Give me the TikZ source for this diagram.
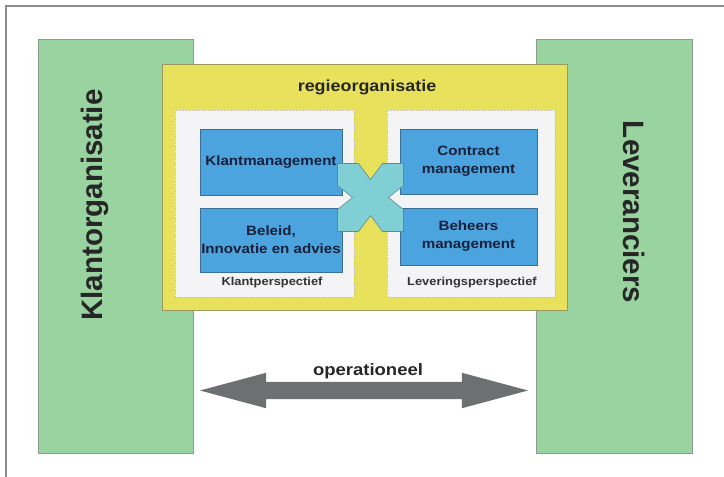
\documentclass[tikz,border=0pt]{standalone}
\usepackage{fontspec}
\setmainfont{Liberation Sans}
\newfontfamily\widesans[FakeStretch=1.12]{Liberation Sans}
\usepackage{xcolor}
\usepackage{tikz}
\usetikzlibrary{positioning,shapes.arrows}

\definecolor{sidegreen}{HTML}{99D3A0}
\definecolor{sideline}{HTML}{8A9C8C}
\definecolor{regieyellow}{HTML}{E8E15C}
\definecolor{regieline}{HTML}{9C9A62}
\definecolor{panelwhite}{HTML}{F4F3F6}
\definecolor{panelline}{HTML}{C9C2A2}
\definecolor{taskblue}{HTML}{4CA4DF}
\definecolor{taskline}{HTML}{3D6E96}
\definecolor{taskink}{HTML}{15203A}
\definecolor{crosscyan}{HTML}{7FCFD5}
\definecolor{crossline}{HTML}{5A8D90}
\definecolor{arrowgray}{HTML}{6C7070}
\definecolor{framegray}{HTML}{8C8C8C}

\begin{document}
\begin{tikzpicture}[x=1pt,y=-1pt,
		side/.style={rectangle, draw=sideline, fill=sidegreen, line width=1pt, minimum width=155pt, minimum height=414pt},
		sidelabel/.style={font=\bfseries\fontsize{29.5}{32}\selectfont, text=black!85},
		panel/.style={rectangle, draw=panelline, densely dotted, line width=0.8pt, fill=panelwhite, minimum height=187pt},
		task/.style={rectangle, draw=taskline, fill=taskblue, line width=0.8pt, align=center, inner sep=0pt,
			font=\widesans\bfseries\fontsize{13.5}{18}\selectfont, text=taskink},
		caption/.style={font=\widesans\bfseries\fontsize{11.5}{13}\selectfont, text=black!80}]
		\useasboundingbox (0,0) rectangle (724,477);
		
		% Frame
		\draw [framegray, line width=1.5pt] (6,477) -- (6,6) -- (724,6);
		
		% Sides
		\node [side] (klant) at (115.5,246) {};
		\node [side, minimum width=156pt] (lever) at (614,246) {};
		\node [sidelabel, rotate=90] (klantlabel) at (95,205) {Klantorganisatie};
		\node [sidelabel, rotate=-90] (leverlabel) at (634,212) {Leveranciers};
		
		% Regieorganisatie
		\node [rectangle, draw=regieline, fill=regieyellow, line width=1pt, minimum width=405pt, minimum height=246pt] (regie) at (364.5,187) {};
		\node [font=\widesans\bfseries\fontsize{16}{18}\selectfont, text=black!85] (regielabel) at (367,87) {regieorganisatie};
		\node [panel, minimum width=179pt] (klantpanel) at (264.5,203.5) {};
		\node [panel, minimum width=168pt] (leverpanel) at (471,203.5) {};
		
		% Tasks
		\node [task, minimum width=142pt, minimum height=66pt] (klantmgmt) at (271,162) {Klantmanagement};
		\node [task, minimum width=142pt, minimum height=64pt] (beleid) at (271,240) {Beleid,\\Innovatie en advies};
		\node [task, minimum width=137pt, minimum height=65pt] (contract) at (468.5,161.5) {Contract\\management};
		\node [task, minimum width=137pt, minimum height=57pt] (beheers) at (468.5,236.5) {Beheers\\management};
		\node [caption] (klantpersp) at (272,283) {Klantperspectief};
		\node [caption] (leverpersp) at (472,283) {Leveringsperspectief};
		
		% Cross
		\coordinate (kruis) at (370.5,197.5);
		\draw [shift={(kruis)}, fill=crosscyan, draw=crossline, line width=0.6pt]
			(-33,-34) -- (-12,-34) -- (0,-18) -- (12,-34) -- (33,-34) -- (33,-12) -- (18,0) -- (33,12)
			-- (33,34) -- (12,34) -- (0,18) -- (-12,34) -- (-33,34) -- (-33,12) -- (-18,0) -- (-33,-12) -- cycle;
		
		% Operationeel
		\node [double arrow, fill=arrowgray, minimum height=328pt, minimum width=35pt, inner xsep=0pt, inner ysep=8.5pt,
			double arrow head extend=9pt, double arrow tip angle=30] (ops) at (364,390.5) {};
		\node [font=\widesans\bfseries\fontsize{16.5}{18}\selectfont, text=black!85] (opslabel) at (368,371) {operationeel};
	\end{tikzpicture}
\end{document}
